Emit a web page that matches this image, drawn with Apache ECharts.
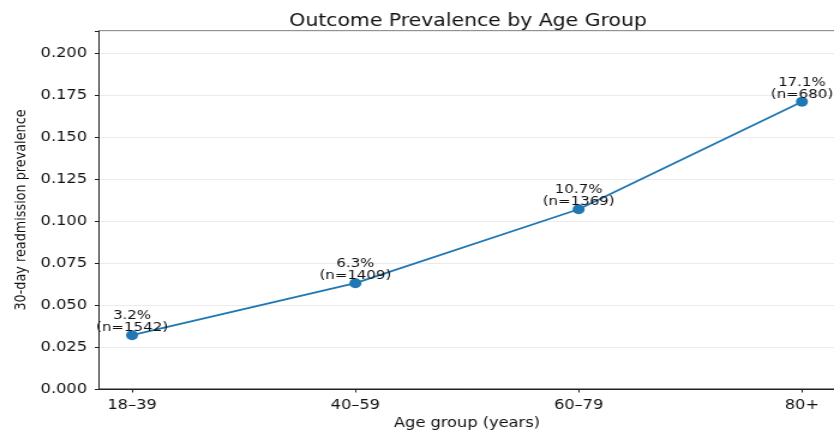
<!DOCTYPE html>
<html>
<head>
<meta charset="utf-8">
<script src="https://cdn.jsdelivr.net/npm/echarts@6/dist/echarts.min.js"></script>
<style>
html,body{margin:0;padding:0;background:#fff;}
#wrap{width:834px;height:430px;overflow:hidden;position:relative;}
#c{width:695px;height:430px;transform:scaleX(1.2);transform-origin:0 0;}
</style>
</head>
<body>
<div id="wrap"><div id="c"></div></div>
<script>
const categories = ['18–39', '40–59', '60–79', '80+'];
const prevalence = [0.032, 0.063, 0.107, 0.171];
const counts = [1542, 1409, 1369, 680];
const yMin = 0, yMax = 0.2131, yStep = 0.025;

const FONT = 'DejaVu Sans';
const chart = echarts.init(document.getElementById('c'), null, {renderer: 'canvas'});
const tickIdx = categories.map((c, i) => i);

chart.setOption({
  animation: false,
  backgroundColor: '#fff',
  title: {
    text: 'Outcome Prevalence by Age Group',
    left: 385, top: 8, textAlign: 'center',
    textStyle: {fontFamily: FONT, fontSize: 17, fontWeight: 'normal', color: '#111'}
  },
  grid: {
    left: 82.5, top: 31, width: 613.3, height: 358,
    outerBoundsMode: 'none', containLabel: false,
    show: true, borderColor: '#222', borderWidth: 1, backgroundColor: 'transparent'
  },
  xAxis: {
    type: 'value', min: -0.148, max: 3.148,
    name: 'Age group (years)', nameLocation: 'middle', nameGap: 26,
    nameTextStyle: {fontFamily: FONT, fontSize: 13.5, color: '#111'},
    axisLine: {show: true, onZero: false, lineStyle: {color: '#222', width: 1}},
    axisTick: {show: true, length: 3.5, customValues: tickIdx, lineStyle: {color: '#222'}},
    axisLabel: {customValues: tickIdx, margin: 9, fontFamily: FONT, fontSize: 13.5, color: '#111',
      formatter: v => categories[Math.round(v)] ?? ''},
    splitLine: {show: false}
  },
  yAxis: {
    type: 'value', min: yMin, max: yMax, interval: yStep,
    name: '30-day readmission prevalence', nameLocation: 'middle', nameGap: 58,
    nameMoveOverlap: false,
    nameTextStyle: {fontFamily: FONT, fontSize: 12.8, color: '#111'},
    axisLine: {show: true, onZero: false, lineStyle: {color: '#222', width: 1}},
    axisTick: {show: true, length: 3.5, lineStyle: {color: '#222'}},
    axisLabel: {margin: 10, fontFamily: FONT, fontSize: 13.5, color: '#111',
      formatter: v => (v > yMax - 0.001) ? '' : v.toFixed(3)},
    splitLine: {show: true, lineStyle: {color: '#ebebeb', width: 1}}
  },
  series: [{
    type: 'line',
    data: categories.map((c, i) => [i, prevalence[i]]),
    symbol: 'circle', symbolSize: 10,
    lineStyle: {color: '#1f77b4', width: 1.8},
    itemStyle: {color: '#1f77b4'},
    label: {
      show: true, position: 'top', distance: -4,
      fontFamily: FONT, fontSize: 12.5, lineHeight: 12, color: '#111', align: 'center',
      formatter: p => (prevalence[p.dataIndex] * 100).toFixed(1) + '%\n(n=' + counts[p.dataIndex] + ')'
    }
  }]
});
</script>
</body>
</html>
